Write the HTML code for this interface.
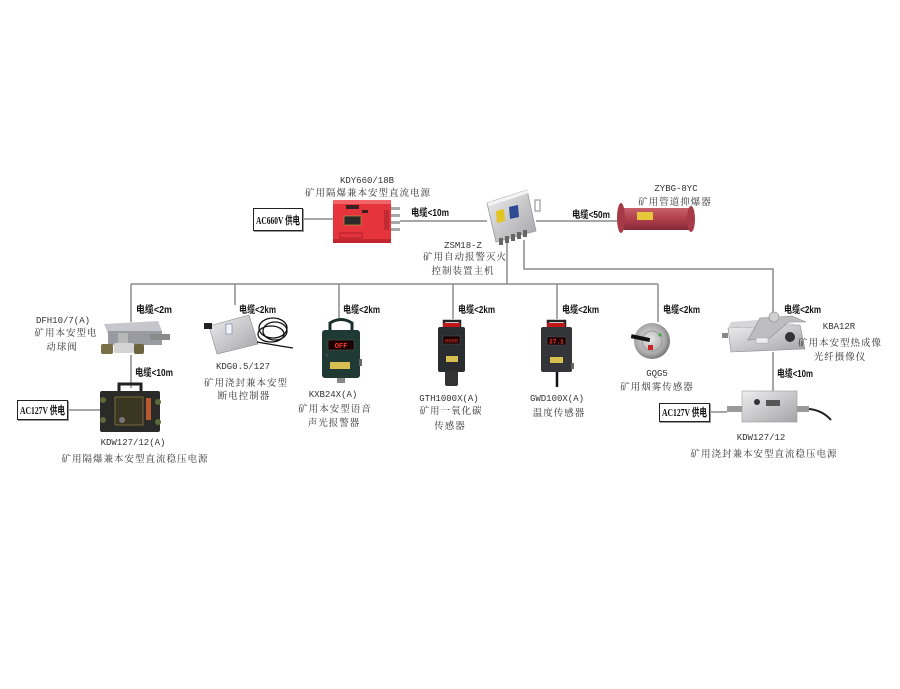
<!DOCTYPE html>
<html>
<head>
<meta charset="utf-8">
<style>
  html,body{margin:0;padding:0;background:#fff;}
  svg{display:block;}
  .cn{font-family:"Liberation Serif","Noto Serif CJK SC",serif;font-size:9.5px;fill:#333;letter-spacing:1px;}
  .lat{font-family:"Liberation Mono","Noto Serif CJK SC",monospace;font-size:9px;fill:#333;}
  .cab{font-family:"Liberation Sans","Noto Sans CJK SC",sans-serif;font-size:10px;font-weight:bold;fill:#111;}
  .box{font-family:"Liberation Serif","Noto Sans CJK SC",serif;font-size:11px;font-weight:bold;fill:#111;}
  .ln{stroke:#8a8a8a;stroke-width:1.5;fill:none;}
</style>
</head>
<body>
<svg width="900" height="689" viewBox="0 0 900 689" xmlns="http://www.w3.org/2000/svg">
  <defs>
    <linearGradient id="steel" x1="0" y1="0" x2="1" y2="1">
      <stop offset="0" stop-color="#eeeeee"/>
      <stop offset="0.5" stop-color="#c9c9cc"/>
      <stop offset="1" stop-color="#a4a4a8"/>
    </linearGradient>
    <linearGradient id="pipe" x1="0" y1="0" x2="0" y2="1">
      <stop offset="0" stop-color="#c8606a"/>
      <stop offset="0.5" stop-color="#b0404b"/>
      <stop offset="1" stop-color="#86283a"/>
    </linearGradient>
    <radialGradient id="disc" cx="0.45" cy="0.45" r="0.6">
      <stop offset="0" stop-color="#e8e8e8"/>
      <stop offset="0.7" stop-color="#a8a8a8"/>
      <stop offset="1" stop-color="#6a6a6a"/>
    </radialGradient>
  </defs>

  <!-- connector lines -->
  <path class="ln" d="M303,219 H333"/>
  <path class="ln" d="M400,221 H487"/>
  <path class="ln" d="M536,221 H617"/>
  <path class="ln" d="M507,243 V284"/>
  <path class="ln" d="M131,284 H658"/>
  <path class="ln" d="M131,284 V322"/>
  <path class="ln" d="M235,284 V305"/>
  <path class="ln" d="M339,284 V318"/>
  <path class="ln" d="M453,284 V319"/>
  <path class="ln" d="M557,284 V319"/>
  <path class="ln" d="M658,284 V322"/>
  <path class="ln" d="M524,240 V269 H773 V318"/>
  <path class="ln" d="M773,352 V392"/>
  <path class="ln" d="M131,355 V388"/>
  <path class="ln" d="M68,410 H100"/>
  <path class="ln" d="M710,412 H727"/>

  <!-- cable labels -->
  <text class="cab" x="411" y="216" textLength="38" lengthAdjust="spacingAndGlyphs">电缆&lt;10m</text>
  <text class="cab" x="572" y="218" textLength="38" lengthAdjust="spacingAndGlyphs">电缆&lt;50m</text>
  <text class="cab" x="136" y="313" textLength="36" lengthAdjust="spacingAndGlyphs">电缆&lt;2m</text>
  <text class="cab" x="239" y="313" textLength="37" lengthAdjust="spacingAndGlyphs">电缆&lt;2km</text>
  <text class="cab" x="343" y="313" textLength="37" lengthAdjust="spacingAndGlyphs">电缆&lt;2km</text>
  <text class="cab" x="458" y="313" textLength="37" lengthAdjust="spacingAndGlyphs">电缆&lt;2km</text>
  <text class="cab" x="562" y="313" textLength="37" lengthAdjust="spacingAndGlyphs">电缆&lt;2km</text>
  <text class="cab" x="663" y="313" textLength="37" lengthAdjust="spacingAndGlyphs">电缆&lt;2km</text>
  <text class="cab" x="784" y="313" textLength="37" lengthAdjust="spacingAndGlyphs">电缆&lt;2km</text>
  <text class="cab" x="135" y="376" textLength="38" lengthAdjust="spacingAndGlyphs">电缆&lt;10m</text>
  <text class="cab" x="777" y="377" textLength="36" lengthAdjust="spacingAndGlyphs">电缆&lt;10m</text>

  <!-- supply boxes -->
  <rect x="253.5" y="208.5" width="49" height="22" fill="#fff" stroke="#222" stroke-width="1"/>
  <path d="M254,231.5 H303.5 V209" stroke="#999" stroke-width="1" fill="none"/>
  <text class="box" x="256" y="224" textLength="44" lengthAdjust="spacingAndGlyphs">AC660V 供电</text>

  <rect x="17.5" y="400.5" width="50" height="19" fill="#fff" stroke="#222" stroke-width="1"/>
  <path d="M18,420.5 H68.5 V401" stroke="#999" stroke-width="1" fill="none"/>
  <text class="box" x="20" y="414" textLength="45" lengthAdjust="spacingAndGlyphs">AC127V 供电</text>

  <rect x="659.5" y="403.5" width="50" height="18" fill="#fff" stroke="#222" stroke-width="1"/>
  <path d="M660,422.5 H710.5 V404" stroke="#999" stroke-width="1" fill="none"/>
  <text class="box" x="662" y="416" textLength="45" lengthAdjust="spacingAndGlyphs">AC127V 供电</text>

  <!-- KDY660/18B red box -->
  <text class="lat" x="367" y="183" text-anchor="middle">KDY660/18B</text>
  <text class="cn" x="368" y="196" text-anchor="middle">矿用隔爆兼本安型直流电源</text>
  <rect x="333" y="200" width="58" height="43" fill="#e6343c"/>
  <rect x="333" y="200" width="58" height="4" fill="#f0646a"/>
  <rect x="333" y="239" width="58" height="4" fill="#c42630"/>
  <rect x="346" y="205" width="13" height="4" fill="#3a2020"/>
  <rect x="362" y="210" width="6" height="3" fill="#3a2020"/>
  <rect x="344" y="216" width="17" height="9" fill="#2a2a2a" stroke="#b08a40" stroke-width="0.8"/>
  <rect x="340" y="233" width="22" height="5" fill="none" stroke="#a82028" stroke-width="1"/>
  <rect x="391" y="207" width="9" height="3" fill="#a8a8a8"/>
  <rect x="391" y="214" width="9" height="3" fill="#a8a8a8"/>
  <rect x="391" y="221" width="9" height="3" fill="#a8a8a8"/>
  <rect x="391" y="228" width="9" height="3" fill="#a8a8a8"/>
  <rect x="384" y="210" width="5" height="20" fill="#c02a30"/>

  <!-- Hub ZSM18-Z -->
  <polygon points="487,203 527,190 536,231 496,242" fill="url(#steel)" stroke="#9a9a9a" stroke-width="0.8"/>
  <polygon points="487,203 527,190 529,193 489,206" fill="#f4f4f4"/>
  <rect x="535" y="200" width="5" height="11" fill="none" stroke="#999" stroke-width="1.2"/>
  <polygon points="496,211 504,209 505,221 497,223" fill="#e2c422"/>
  <polygon points="509,207 518,205 519,217 510,219" fill="#2e4a92"/>
  <rect x="499" y="238" width="4" height="7" fill="#666"/>
  <rect x="505" y="236" width="4" height="7" fill="#666"/>
  <rect x="511" y="234" width="4" height="7" fill="#666"/>
  <rect x="517" y="232" width="4" height="7" fill="#666"/>
  <rect x="523" y="230" width="4" height="7" fill="#666"/>
  <text class="lat" x="463" y="248" text-anchor="middle">ZSM18-Z</text>
  <text class="cn" x="465" y="260" text-anchor="middle">矿用自动报警灭火</text>
  <text class="cn" x="463" y="274" text-anchor="middle">控制装置主机</text>

  <!-- ZYBG-8YC pipe -->
  <text class="lat" x="676" y="191" text-anchor="middle">ZYBG-8YC</text>
  <text class="cn" x="675" y="205" text-anchor="middle">矿用管道抑爆器</text>
  <rect x="620" y="208" width="71" height="22" fill="url(#pipe)"/>
  <ellipse cx="621" cy="218" rx="4" ry="15" fill="#a63a46"/>
  <ellipse cx="691" cy="219" rx="4" ry="13" fill="#a63a46"/>
  <rect x="637" y="212" width="16" height="8" fill="#e6c73a"/>

  <!-- DFH10/7(A) -->
  <text class="lat" x="63" y="323" text-anchor="middle">DFH10/7(A)</text>
  <text class="cn" x="66" y="336" text-anchor="middle">矿用本安型电</text>
  <text class="cn" x="62" y="350" text-anchor="middle">动球阀</text>
  <polygon points="104,324 158,321 162,331 108,334" fill="#c6c6cc"/>
  <rect x="108" y="331" width="54" height="14" fill="#9a9aa2"/>
  <rect x="150" y="334" width="20" height="6" fill="#8a8a8a"/>
  <rect x="101" y="344" width="12" height="10" rx="2" fill="#7a7048"/>
  <rect x="114" y="343" width="20" height="10" rx="2" fill="#d4d4d4"/>
  <rect x="134" y="344" width="10" height="10" rx="2" fill="#6c6440"/>
  <rect x="118" y="333" width="10" height="10" fill="#b8b8b8"/>

  <!-- KDW127/12(A) -->
  <path d="M119,392 V384 H141 V392" stroke="#222" stroke-width="3" fill="none"/>
  <rect x="100" y="391" width="60" height="41" rx="2" fill="#2a2a28"/>
  <rect x="115" y="397" width="28" height="28" fill="#3a3622" stroke="#8a7a40" stroke-width="0.8"/>
  <rect x="146" y="398" width="5" height="22" fill="#b85a2e"/>
  <circle cx="103" cy="400" r="3" fill="#5a6a3a"/>
  <circle cx="103" cy="420" r="3" fill="#5a6a3a"/>
  <circle cx="158" cy="402" r="3" fill="#5a6a3a"/>
  <circle cx="158" cy="422" r="3" fill="#5a6a3a"/>
  <circle cx="122" cy="420" r="3" fill="#777"/>
  <text class="lat" x="133" y="445" text-anchor="middle">KDW127/12(A)</text>
  <text class="cn" x="135" y="462" text-anchor="middle">矿用隔爆兼本安型直流稳压电源</text>

  <!-- KDG0.5/127 -->
  <polygon points="209,326 249,315 258,344 217,354" fill="url(#steel)" stroke="#888" stroke-width="0.6"/>
  <rect x="226" y="324" width="6" height="10" fill="#f4f4f4" stroke="#6a7ab0" stroke-width="0.6"/>
  <rect x="204" y="323" width="8" height="6" fill="#222"/>
  <ellipse cx="273" cy="328" rx="14" ry="10" fill="none" stroke="#111" stroke-width="1.3"/>
  <ellipse cx="275" cy="331" rx="12" ry="9" fill="none" stroke="#111" stroke-width="1.3"/>
  <ellipse cx="271" cy="334" rx="13" ry="8" fill="none" stroke="#111" stroke-width="1.3"/>
  <path d="M257,342 Q280,346 293,348" stroke="#111" stroke-width="1.3" fill="none"/>
  <text class="lat" x="243" y="369" text-anchor="middle">KDG0.5/127</text>
  <text class="cn" x="246" y="386" text-anchor="middle">矿用浇封兼本安型</text>
  <text class="cn" x="244" y="399" text-anchor="middle">断电控制器</text>

  <!-- KXB24X(A) -->
  <path d="M330,334 V323 Q341,316 352,323 V334" stroke="#17302a" stroke-width="3" fill="none"/>
  <rect x="322" y="330" width="38" height="48" rx="3" fill="#1e3a32"/>
  <rect x="328" y="340" width="26" height="10" fill="#1a0000" stroke="#555" stroke-width="0.6"/>
  <text x="341" y="348" text-anchor="middle" font-family="Liberation Mono,monospace" font-size="7" font-weight="bold" fill="#ff3a2a">OFF</text>
  <circle cx="327" cy="355" r="1.5" fill="#444"/>
  <rect x="330" y="362" width="20" height="7" fill="#d8c050"/>
  <rect x="337" y="378" width="8" height="5" fill="#888"/>
  <rect x="359" y="359" width="3" height="7" fill="#666"/>
  <text class="lat" x="333" y="397" text-anchor="middle">KXB24X(A)</text>
  <text class="cn" x="335" y="412" text-anchor="middle">矿用本安型语音</text>
  <text class="cn" x="334" y="426" text-anchor="middle">声光报警器</text>

  <!-- GTH1000X(A) -->
  <path d="M444,328 V321 H460 V328" stroke="#222" stroke-width="2.5" fill="none"/>
  <rect x="443" y="323" width="17" height="5" fill="#c01818"/>
  <rect x="438" y="327" width="27" height="45" rx="2" fill="#2a2d30"/>
  <rect x="443" y="336" width="17" height="8" fill="#1a0000" stroke="#555" stroke-width="0.5"/>
  <text x="451.5" y="342.5" text-anchor="middle" font-family="Liberation Mono,monospace" font-size="5.5" fill="#ff3a2a">0000</text>
  <rect x="446" y="356" width="12" height="6" fill="#d8c050"/>
  <rect x="445" y="371" width="13" height="15" rx="2" fill="#333"/>
  <text class="lat" x="449" y="401" text-anchor="middle">GTH1000X(A)</text>
  <text class="cn" x="451" y="414" text-anchor="middle">矿用一氧化碳</text>
  <text class="cn" x="450" y="429" text-anchor="middle">传感器</text>

  <!-- GWD100X(A) -->
  <path d="M548,328 V321 H565 V328" stroke="#222" stroke-width="2.5" fill="none"/>
  <rect x="547" y="323" width="18" height="5" fill="#c01818"/>
  <rect x="541" y="327" width="31" height="45" rx="2" fill="#333538"/>
  <rect x="547" y="337" width="19" height="8" fill="#1a0000" stroke="#555" stroke-width="0.5"/>
  <text x="556.5" y="343.5" text-anchor="middle" font-family="Liberation Mono,monospace" font-size="6" font-weight="bold" fill="#ff3a2a">27.1</text>
  <rect x="550" y="357" width="13" height="6" fill="#d8c050"/>
  <rect x="571" y="363" width="3" height="6" fill="#666"/>
  <path d="M557,372 V387" stroke="#111" stroke-width="2.5"/>
  <text class="lat" x="557" y="401" text-anchor="middle">GWD100X(A)</text>
  <text class="cn" x="559" y="416" text-anchor="middle">温度传感器</text>

  <!-- GQG5 -->
  <circle cx="652" cy="341" r="18" fill="url(#disc)"/>
  <circle cx="652" cy="341" r="10" fill="none" stroke="#999" stroke-width="1"/>
  <rect x="631" y="336" width="19" height="4" fill="#111" transform="rotate(12 640 338)"/>
  <rect x="648" y="345" width="5" height="5" fill="#c22"/>
  <circle cx="660" cy="335" r="1.5" fill="#3a3"/>
  <text class="lat" x="657" y="376" text-anchor="middle">GQG5</text>
  <text class="cn" x="657" y="390" text-anchor="middle">矿用烟雾传感器</text>

  <!-- KBA12R -->
  <polygon points="728,328 800,325 805,349 731,352" fill="url(#steel)" stroke="#8a8a8a" stroke-width="0.6"/>
  <polygon points="731,322 772,319 800,325 728,328" fill="#d6d6d8"/>
  <polygon points="748,340 760,318 792,316 806,322 788,322 770,338" fill="#bdbdc0" stroke="#888" stroke-width="0.6"/>
  <circle cx="774" cy="317" r="5" fill="#cfcfcf" stroke="#888" stroke-width="0.6"/>
  <circle cx="790" cy="337" r="5" fill="#333"/>
  <rect x="722" y="333" width="6" height="5" fill="#888"/>
  <rect x="756" y="338" width="12" height="5" fill="#eee" stroke="#999" stroke-width="0.4"/>
  <text class="lat" x="839" y="329" text-anchor="middle">KBA12R</text>
  <text class="cn" x="840" y="346" text-anchor="middle">矿用本安型热成像</text>
  <text class="cn" x="840" y="360" text-anchor="middle">光纤摄像仪</text>

  <!-- KDW127/12 right -->
  <rect x="742" y="391" width="55" height="31" fill="url(#steel)" stroke="#999" stroke-width="0.6"/>
  <rect x="727" y="406" width="15" height="6" fill="#9a9a9a"/>
  <rect x="797" y="406" width="12" height="6" fill="#9a9a9a"/>
  <path d="M809,409 Q822,410 831,420" stroke="#222" stroke-width="2" fill="none"/>
  <circle cx="757" cy="402" r="3" fill="#333"/>
  <rect x="766" y="400" width="14" height="6" fill="#555"/>
  <text class="lat" x="761" y="440" text-anchor="middle">KDW127/12</text>
  <text class="cn" x="764" y="457" text-anchor="middle">矿用浇封兼本安型直流稳压电源</text>
</svg>
</body>
</html>
